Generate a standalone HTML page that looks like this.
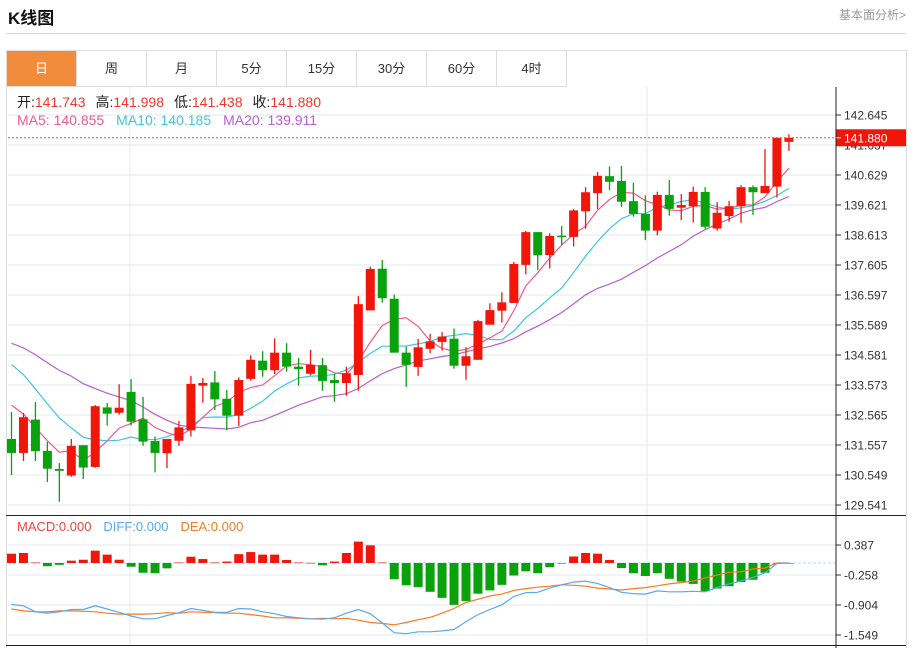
<!DOCTYPE html>
<html><head><meta charset="utf-8">
<style>
body{margin:0;width:914px;height:648px;background:#fff;overflow:hidden;font-family:"Liberation Sans","Noto Sans CJK SC",sans-serif;}
#title{position:absolute;left:8px;top:4px;font-size:17px;font-weight:bold;color:#111;}
#more{position:absolute;right:8px;top:6px;font-size:12px;color:#999;}
#hr{position:absolute;left:6px;top:33px;width:900px;height:1px;background:#d5d5d5;}
#panel{position:absolute;left:6px;top:50px;width:899px;height:597px;border:1px solid #ddd;border-bottom:none;}
.tab{position:absolute;top:51px;height:35px;width:69px;border-right:1px solid #ddd;border-bottom:1px solid #ddd;font-size:13px;line-height:35px;text-align:center;color:#333;}
.tab.on{background:#f28c3d;color:#fff;}
svg{position:absolute;left:0;top:0;}
</style></head><body>
<div id="title">K线图</div>
<div id="more">基本面分析&gt;</div>
<div id="hr"></div>
<div id="panel"></div>
<div class="tab on" style="left:7px">日</div>
<div class="tab" style="left:77px">周</div>
<div class="tab" style="left:147px">月</div>
<div class="tab" style="left:217px">5分</div>
<div class="tab" style="left:287px">15分</div>
<div class="tab" style="left:357px">30分</div>
<div class="tab" style="left:427px">60分</div>
<div class="tab" style="left:497px">4时</div>
<svg id="chart" width="914" height="648"></svg>
<script>
const opens=[131.76,131.29,132.41,131.36,130.75,130.53,131.55,130.82,132.82,132.64,133.34,132.42,131.69,131.28,131.70,132.05,133.55,133.66,133.11,132.54,133.78,134.39,134.07,134.66,134.19,133.95,134.24,133.74,133.64,133.91,136.08,137.48,136.47,134.66,134.18,134.79,135.02,135.13,134.22,134.42,135.60,136.07,136.33,137.61,138.71,137.94,138.59,138.55,139.41,140.02,140.59,140.43,139.75,139.32,138.76,139.96,139.53,139.58,140.06,138.83,139.25,139.58,140.22,140.02,140.24,141.743];
const highs=[132.67,132.63,133.00,131.66,130.95,131.76,131.55,132.90,132.97,133.60,133.77,133.17,131.84,131.76,132.37,133.88,133.81,134.04,133.41,133.83,134.57,134.71,135.14,134.98,134.49,134.75,134.48,133.94,134.19,136.56,137.55,137.77,136.61,134.86,135.12,135.29,135.35,135.47,134.84,135.76,136.32,136.69,137.71,138.75,138.71,138.67,138.91,139.48,140.22,140.73,140.92,140.94,140.37,139.95,140.07,140.46,139.99,140.24,140.22,139.72,139.76,140.29,140.28,141.50,141.88,141.998];
const lows=[130.55,131.02,131.02,130.31,129.65,130.49,130.41,130.79,132.21,132.58,132.21,131.53,130.64,130.78,131.53,131.84,132.98,132.73,132.05,132.20,133.72,133.85,133.94,134.02,133.55,133.90,133.38,133.01,133.21,133.38,136.08,136.34,134.66,133.51,133.88,134.64,134.73,134.12,133.75,134.42,135.60,135.67,136.33,137.29,137.43,137.49,138.28,138.23,138.82,139.49,140.12,139.56,139.23,138.44,138.60,139.26,139.11,139.03,138.82,138.76,139.06,139.02,139.29,140.02,139.87,141.438];
const closes=[131.29,132.49,131.35,130.76,130.69,131.53,130.80,132.86,132.61,132.81,132.34,131.67,131.29,131.76,132.15,133.61,133.64,133.09,132.54,133.74,134.42,134.07,134.66,134.19,134.11,134.25,133.71,133.64,133.97,136.29,137.47,136.49,134.66,134.25,134.84,135.04,135.20,134.22,134.54,135.72,136.09,136.35,137.64,138.71,137.93,138.58,138.54,139.44,140.05,140.60,140.40,139.73,139.32,138.76,139.96,139.49,139.62,140.06,138.89,139.36,139.58,140.22,140.05,140.26,141.88,141.880];
const priorCloses=[135.6,135.9,136.2,135.8,135.4,135.9,136.1,135.7,135.3,135.0,135.9,136.1,135.8,135.4,134.9,134.0,133.6,133.0,132.6];
const macdHist=[0.20,0.215,0.01,-0.07,-0.04,0.05,0.07,0.265,0.18,0.07,-0.08,-0.21,-0.22,-0.115,0.01,0.135,0.085,0.01,0.03,0.19,0.235,0.18,0.18,0.065,0.01,0.003,-0.05,0.03,0.215,0.46,0.38,0.01,-0.35,-0.48,-0.52,-0.62,-0.75,-0.90,-0.82,-0.66,-0.59,-0.47,-0.27,-0.18,-0.22,-0.09,-0.005,0.14,0.215,0.20,0.065,-0.11,-0.22,-0.28,-0.22,-0.34,-0.40,-0.45,-0.61,-0.55,-0.50,-0.41,-0.36,-0.21,-0.005,0];
const diffLine=[-0.89,-0.92,-1.05,-1.08,-1.05,-1.00,-1.00,-0.92,-0.99,-1.06,-1.14,-1.20,-1.20,-1.13,-1.07,-0.98,-1.02,-1.06,-1.06,-0.98,-0.99,-1.05,-1.09,-1.15,-1.18,-1.20,-1.21,-1.18,-1.08,-1.00,-1.09,-1.29,-1.50,-1.52,-1.48,-1.48,-1.46,-1.43,-1.26,-1.11,-1.00,-0.90,-0.72,-0.64,-0.63,-0.54,-0.47,-0.41,-0.39,-0.44,-0.53,-0.63,-0.66,-0.67,-0.60,-0.62,-0.62,-0.61,-0.62,-0.53,-0.45,-0.39,-0.31,-0.21,-0.01,0];
const deaLine=[-0.99,-1.03,-1.05,-1.05,-1.03,-1.03,-1.04,-1.05,-1.08,-1.10,-1.10,-1.10,-1.09,-1.07,-1.08,-1.05,-1.06,-1.07,-1.08,-1.08,-1.11,-1.14,-1.18,-1.18,-1.19,-1.20,-1.19,-1.20,-1.19,-1.23,-1.28,-1.30,-1.33,-1.28,-1.22,-1.17,-1.08,-0.98,-0.85,-0.78,-0.71,-0.67,-0.59,-0.55,-0.52,-0.50,-0.47,-0.48,-0.50,-0.54,-0.56,-0.58,-0.55,-0.53,-0.49,-0.45,-0.42,-0.39,-0.32,-0.26,-0.20,-0.19,-0.13,-0.11,0,0];
const priceTicks=[142.645,141.637,140.629,139.621,138.613,137.605,136.597,135.589,134.581,133.573,132.565,131.557,130.549,129.541];
const macdTicks=[0.387,-0.258,-0.904,-1.549];

const NS='http://www.w3.org/2000/svg';
const svg=document.getElementById('chart');
function mk(tag,attrs,parent){const e=document.createElementNS(NS,tag);for(const k in attrs)e.setAttribute(k,attrs[k]);(parent||svg).appendChild(e);return e;}
const xAt=i=>11.5+i*11.96;
const yP=p=>115+(142.645-p)*(390/13.104);
const yM=v=>545+(0.387-v)*(90/1.936);
const RED='#f2160a',GREEN='#0aa20c';

priceTicks.forEach(t=>{const y=yP(t);
 const g=mk('line',{x1:8,x2:836,y1:y,y2:y,stroke:'#e2e8ee','stroke-width':1});
 
 mk('line',{x1:836,x2:841,y1:y,y2:y,stroke:'#333'});
 const tx=mk('text',{x:844,y:y+4.5,'font-size':12,fill:'#333','font-family':'Liberation Sans, sans-serif'});tx.textContent=t.toFixed(3);
 
});
macdTicks.forEach(t=>{const y=yM(t);
 const g=mk('line',{x1:8,x2:836,y1:y,y2:y,stroke:'#e2e8ee'});
 
 mk('line',{x1:836,x2:841,y1:y,y2:y,stroke:'#333'});
 const tx=mk('text',{x:844,y:y+4.5,'font-size':12,fill:'#333','font-family':'Liberation Sans, sans-serif'});tx.textContent=t.toFixed(3);
 
});
[130,647].forEach(x=>{mk('line',{x1:x,x2:x,y1:87,y2:645,stroke:'#e2e8ee'});});
mk('line',{x1:8,x2:836,y1:yM(0),y2:yM(0),stroke:'#a9dcec','stroke-dasharray':'3,2'});

const all=priorCloses.concat(closes);
function ma(n){const out=[];for(let i=0;i<closes.length;i++){const j=i+priorCloses.length;let s=0;for(let k=j-n+1;k<=j;k++)s+=all[k];out.push(s/n);}return out;}
[[20,'#b65fcf','ma20-line'],[10,'#3fc6de','ma10-line'],[5,'#ef5b8c','ma5-line']].forEach(([n,c,name])=>{
 const v=ma(n);const pts=v.map((p,i)=>xAt(i).toFixed(1)+','+yP(p).toFixed(1)).join(' ');
 const l=mk('polyline',{points:pts,fill:'none',stroke:c,'stroke-width':1.2});
 
});

closes.forEach((c,i)=>{const o=opens[i],up=c>=o,col=up?RED:GREEN,x=xAt(i);
 const g=mk('g',{});
 
 mk('line',{x1:x,x2:x,y1:yP(highs[i]),y2:yP(lows[i]),stroke:col,'stroke-width':1.3},g);
 const t=yP(Math.max(o,c)),b=yP(Math.min(o,c));
 mk('rect',{x:x-4.5,y:t,width:9,height:Math.max(1.5,b-t),fill:col},g);
});

const lp=closes[closes.length-1],ly=yP(lp);
mk('line',{x1:8,x2:836,y1:ly,y2:ly,stroke:'#f0443a','stroke-dasharray':'2,2'});
const lb=mk('rect',{x:836,y:ly-8.5,width:70,height:17,fill:RED});

mk('line',{x1:836,x2:841,y1:ly,y2:ly,stroke:'#fff'});
const lt=mk('text',{x:844,y:ly+4.5,'font-size':12,fill:'#fff','font-family':'Liberation Sans, sans-serif'});lt.textContent=lp.toFixed(3);

macdHist.forEach((v,i)=>{const x=xAt(i),y0=yM(0),y1=yM(v);
 const r=mk('rect',{x:x-4.5,y:Math.min(y0,y1),width:9,height:Math.max(0.6,Math.abs(y1-y0)),fill:v>=0?RED:GREEN});
 
});
[[deaLine,'#f57b22','dea-line'],[diffLine,'#58a9ee','diff-line']].forEach(([arr,c,name])=>{
 const l=mk('polyline',{points:arr.map((v,i)=>xAt(i).toFixed(1)+','+yM(v).toFixed(1)).join(' '),fill:'none',stroke:c,'stroke-width':1.2});
 
});

mk('line',{x1:836,x2:836,y1:87,y2:648,stroke:'#222'});
mk('line',{x1:6,x2:906,y1:515.5,y2:515.5,stroke:'#222'});
mk('line',{x1:6,x2:906,y1:645.5,y2:645.5,stroke:'#222'});

function legend(y,fs,items,name){const t=mk('text',{x:17,y:y,'font-size':fs,'font-family':'Liberation Sans, Noto Sans CJK SC, sans-serif'});
 
 items.forEach(([s,c,dx])=>{const ts=mk('tspan',{fill:c},t);if(dx)ts.setAttribute('dx',dx);ts.textContent=s;});}
legend(107,14,[['开:','#222'],['141.743','#f5352a'],['高:','#222',10],['141.998','#f5352a'],['低:','#222',10],['141.438','#f5352a'],['收:','#222',10],['141.880','#f5352a']],'ohlc-legend');
legend(125,14,[['MA5: 140.855','#ef5b8c'],['MA10: 140.185','#3fc6de',12],['MA20: 139.911','#b65fcf',12]],'ma-legend');
legend(531,13,[['MACD:0.000','#f2453a'],['DIFF:0.000','#58a9ee',12],['DEA:0.000','#f57b22',12]],'macd-legend');
</script>
</body></html>
